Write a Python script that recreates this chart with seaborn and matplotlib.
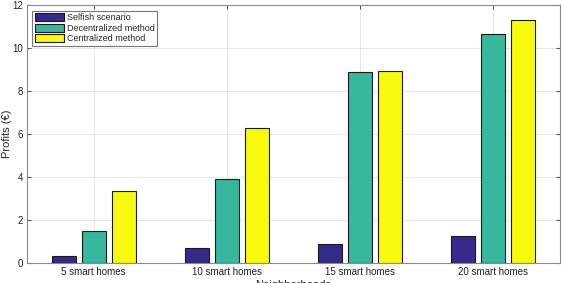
import matplotlib
matplotlib.use("Agg")
import matplotlib.pyplot as plt
import seaborn as sns
import pandas as pd

# data
neighborhoods = ["5 smart homes", "10 smart homes", "15 smart homes", "20 smart homes"]
methods = ["Selfish scenario", "Decentralized method", "Centralized method"]
selfish = [0.33, 0.70, 0.88, 1.25]
decentralized = [1.49, 3.92, 8.87, 10.65]
centralized = [3.35, 6.27, 8.95, 11.30]
colors = ["#35298A", "#36B89C", "#F8FA0D"]

rows = []
for name, vals in zip(methods, [selfish, decentralized, centralized]):
    for nb, v in zip(neighborhoods, vals):
        rows.append({"Neighborhoods": nb, "Method": name, "Profit": v})
df = pd.DataFrame(rows)

sns.set_style("white")
plt.rcParams["font.family"] = ["Liberation Sans", "DejaVu Sans"]

fig = plt.figure(figsize=(5.62, 2.83), dpi=100)
ax = fig.add_axes([0.048, 0.071, 0.948, 0.911])

sns.barplot(data=df, x="Neighborhoods", y="Profit", hue="Method",
            palette=colors, saturation=1, width=0.675, gap=0.2,
            edgecolor="#1a1a1a", linewidth=0.8, errorbar=None, ax=ax, zorder=3)

ax.set_xlim(-0.5, 3.5)
ax.set_ylim(0, 12)
ax.set_yticks(range(0, 13, 2))
ax.grid(True, color="#e6e6e6", linewidth=0.7, zorder=0)
ax.set_axisbelow(True)
for s in ax.spines.values():
    s.set_color("#8a8a8a")
    s.set_linewidth(0.8)
ax.tick_params(axis="both", direction="in", length=3, color="#555555",
               labelsize=7, top=True, right=True, bottom=True, left=True,
               labelcolor="#222222", pad=3)
ax.set_xlabel("Neighborhoods", fontsize=8, labelpad=2, color="#222222")
ax.set_ylabel("Profits (€)", fontsize=8, labelpad=1, color="#222222")
ax.yaxis.set_label_coords(-0.028, 0.5)

leg = ax.legend(loc="upper left", fontsize=6.5, frameon=True, fancybox=False,
                borderpad=0.3, labelspacing=0.15, handlelength=3.2,
                handleheight=1.0, handletextpad=0.3, borderaxespad=0.6)
leg.get_frame().set_edgecolor("#555555")
leg.get_frame().set_linewidth(0.8)
leg.set_title(None)

fig.savefig("out.png", dpi=100)
